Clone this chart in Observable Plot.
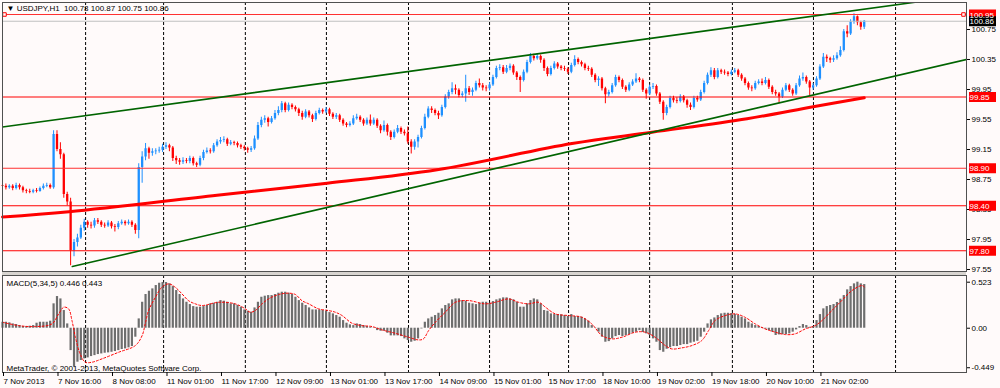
<!DOCTYPE html>
<html><head><meta charset="utf-8">
<script src="https://cdn.jsdelivr.net/npm/d3@7"></script>
<script src="https://cdn.jsdelivr.net/npm/@observablehq/plot@0.6"></script>
<style>
body{margin:0;background:#fffafa;}
#wrap{position:relative;width:1000px;height:388px;overflow:hidden;background:#fffafa;}
#wrap svg{position:absolute;left:0;}
#sep{position:absolute;left:2px;width:964px;top:271px;height:4px;background:#d8d4d0;}
</style></head><body><div id="wrap"><div id="sep"></div></div>
<script>
// ---- Data: USDJPY H1 candles (bar index 0 = 7 Nov 2013 00:00) ----
const open = [98.67,98.66,98.64,98.66,98.63,98.67,98.64,98.60,98.59,98.58,98.60,98.59,98.63,98.66,98.67,98.64,
99.35,99.15,99.08,98.55,98.45,97.80,97.91,97.97,98.10,98.18,98.14,98.13,98.20,98.18,98.14,98.13,
98.17,98.12,98.11,98.16,98.18,98.16,98.18,98.14,98.07,98.91,99.05,99.16,99.10,99.12,99.13,99.14,
99.18,99.20,99.17,99.03,99.00,98.98,99.00,98.99,99.03,98.96,98.94,99.03,99.11,99.13,99.12,99.20,
99.25,99.27,99.28,99.22,99.24,99.23,99.20,99.18,99.16,99.14,99.16,99.29,99.47,99.54,99.56,99.51,
99.56,99.63,99.67,99.76,99.67,99.74,99.71,99.68,99.63,99.58,99.65,99.60,99.55,99.63,99.67,99.65,
99.68,99.62,99.58,99.60,99.54,99.49,99.47,99.49,99.56,99.58,99.54,99.49,99.54,99.49,99.54,99.46,
99.40,99.47,99.38,99.31,99.38,99.43,99.38,99.36,99.25,99.18,99.25,99.31,99.43,99.58,99.69,99.67,
99.63,99.60,99.71,99.85,99.91,99.96,99.94,99.87,99.89,99.96,99.91,99.94,100.03,100.00,99.97,99.96,
100.01,100.11,100.23,100.24,100.18,100.23,100.26,100.17,100.11,100.07,100.18,100.31,100.39,100.36,100.39,100.34,
100.23,100.15,100.23,100.29,100.25,100.23,100.22,100.18,100.27,100.35,100.31,100.28,100.23,100.22,100.14,100.07,
100.09,99.96,99.88,99.91,100.00,100.11,100.07,99.98,99.94,100.01,100.05,100.09,100.07,99.94,99.89,99.98,
99.99,99.89,99.78,99.63,99.71,99.83,99.80,99.79,99.85,99.80,99.74,99.71,99.83,99.81,99.91,100.03,
100.14,100.20,100.11,100.20,100.18,100.17,100.15,100.18,100.20,100.14,100.09,100.03,99.97,99.96,100.03,100.05,
100.03,100.07,99.98,99.91,99.89,99.85,99.94,100.00,99.94,99.89,100.00,100.09,100.11,100.05,99.97,100.00,
100.09,100.25,100.38,100.36,100.34,100.36,100.40,100.47,100.72,100.69,100.85,100.92,100.84,100.78];
const high = [98.70,98.69,98.68,98.68,98.70,98.69,98.66,98.62,98.62,98.62,98.63,98.65,98.69,98.70,98.69,99.40,
99.40,99.24,99.10,98.58,98.50,97.95,98.02,98.14,98.22,98.20,98.18,98.23,98.23,98.20,98.17,98.20,
98.19,98.15,98.19,98.21,98.20,98.21,98.20,98.16,98.96,99.12,99.23,99.18,99.16,99.16,99.18,99.22,
99.24,99.22,99.19,99.06,99.03,99.04,99.03,99.06,99.05,98.98,99.06,99.14,99.17,99.16,99.23,99.28,
99.31,99.32,99.30,99.27,99.26,99.25,99.22,99.20,99.18,99.19,99.33,99.51,99.58,99.60,99.58,99.59,
99.67,99.72,99.79,99.78,99.77,99.76,99.73,99.70,99.66,99.68,99.67,99.62,99.66,99.70,99.69,99.71,
99.70,99.64,99.63,99.62,99.56,99.51,99.52,99.60,99.62,99.60,99.56,99.57,99.61,99.57,99.56,99.48,
99.53,99.49,99.40,99.41,99.47,99.45,99.41,99.45,99.28,99.28,99.34,99.46,99.62,99.72,99.72,99.69,
99.66,99.74,99.88,99.94,100.04,100.01,99.96,99.92,100.14,99.99,99.97,100.06,100.09,100.03,100.00,100.04,
100.14,100.26,100.28,100.27,100.27,100.29,100.28,100.19,100.13,100.21,100.34,100.43,100.42,100.43,100.41,100.36,
100.25,100.26,100.32,100.31,100.27,100.26,100.24,100.30,100.40,100.37,100.33,100.30,100.26,100.24,100.16,100.12,
100.11,99.98,99.94,100.03,100.14,100.13,100.09,100.00,100.04,100.08,100.16,100.11,100.09,99.96,100.01,100.03,
100.01,99.91,99.80,99.74,99.86,99.86,99.84,99.88,99.87,99.82,99.77,99.86,99.86,99.94,100.06,100.17,
100.24,100.23,100.23,100.22,100.21,100.19,100.21,100.23,100.22,100.16,100.11,100.05,100.00,100.06,100.08,100.09,
100.11,100.09,100.00,99.94,99.91,99.97,100.03,100.02,99.96,100.03,100.13,100.17,100.13,100.07,100.03,100.12,
100.28,100.43,100.41,100.38,100.40,100.44,100.52,100.75,100.80,100.88,100.96,100.93,100.86,100.87];
const low = [98.62,98.61,98.62,98.60,98.61,98.61,98.57,98.56,98.56,98.56,98.57,98.58,98.61,98.64,98.62,98.62,
99.12,99.02,98.50,98.40,97.60,97.72,97.85,97.95,98.06,98.10,98.09,98.10,98.15,98.11,98.10,98.11,
98.09,98.05,98.08,98.14,98.13,98.14,98.11,98.02,97.96,98.70,99.00,99.02,99.06,99.08,99.10,99.11,
99.15,99.12,98.99,98.95,98.94,98.95,98.96,98.96,98.93,98.91,98.92,99.00,99.09,99.09,99.10,99.18,
99.22,99.24,99.19,99.20,99.20,99.17,99.15,99.13,99.10,99.11,99.14,99.27,99.44,99.50,99.45,99.49,
99.54,99.60,99.64,99.64,99.65,99.68,99.65,99.59,99.54,99.56,99.57,99.51,99.53,99.61,99.62,99.63,
99.59,99.55,99.55,99.51,99.46,99.44,99.45,99.47,99.54,99.51,99.46,99.47,99.46,99.47,99.43,99.36,
99.38,99.33,99.27,99.29,99.36,99.35,99.33,99.22,99.09,99.14,99.17,99.29,99.41,99.56,99.63,99.60,
99.55,99.58,99.69,99.82,99.88,99.88,99.84,99.84,99.78,99.87,99.86,99.92,99.97,99.93,99.92,99.93,
99.99,100.09,100.20,100.15,100.16,100.20,100.14,100.07,99.91,100.05,100.16,100.29,100.33,100.34,100.30,100.19,
100.12,100.13,100.21,100.22,100.20,100.19,100.15,100.16,100.25,100.28,100.25,100.20,100.19,100.11,100.04,99.99,
99.93,99.76,99.85,99.89,99.98,100.04,99.95,99.91,99.92,99.99,100.03,100.04,99.91,99.82,99.87,99.95,
99.86,99.75,99.54,99.60,99.69,99.77,99.76,99.77,99.77,99.70,99.67,99.69,99.78,99.79,99.89,100.01,
100.11,100.08,100.09,100.15,100.14,100.12,100.13,100.16,100.11,100.06,100.00,99.94,99.92,99.94,100.01,100.00,
100.01,99.95,99.88,99.86,99.76,99.83,99.92,99.91,99.86,99.87,99.98,100.06,100.02,99.87,99.94,99.98,
100.07,100.23,100.31,100.30,100.31,100.34,100.38,100.45,100.64,100.67,100.82,100.80,100.74,100.75];
const close = [98.66,98.64,98.66,98.63,98.67,98.64,98.60,98.59,98.58,98.60,98.59,98.63,98.66,98.67,98.64,99.35,
99.15,99.08,98.55,98.45,97.80,97.91,97.97,98.10,98.18,98.14,98.13,98.20,98.18,98.14,98.13,98.17,
98.12,98.11,98.16,98.18,98.16,98.18,98.14,98.07,98.91,99.05,99.16,99.10,99.12,99.13,99.14,99.18,
99.20,99.17,99.03,99.00,98.98,99.00,98.99,99.03,98.96,98.94,99.03,99.11,99.13,99.12,99.20,99.25,
99.27,99.28,99.22,99.24,99.23,99.20,99.18,99.16,99.14,99.16,99.29,99.47,99.54,99.56,99.51,99.56,
99.63,99.67,99.76,99.67,99.74,99.71,99.68,99.63,99.58,99.65,99.60,99.55,99.63,99.67,99.65,99.68,
99.62,99.58,99.60,99.54,99.49,99.47,99.49,99.56,99.58,99.54,99.49,99.54,99.49,99.54,99.46,99.40,
99.47,99.38,99.31,99.38,99.43,99.38,99.36,99.25,99.18,99.25,99.31,99.43,99.58,99.69,99.67,99.63,
99.60,99.71,99.85,99.91,99.96,99.94,99.87,99.89,99.96,99.91,99.94,100.03,100.00,99.97,99.96,100.01,
100.11,100.23,100.24,100.18,100.23,100.26,100.17,100.11,100.07,100.18,100.31,100.39,100.36,100.39,100.34,100.23,
100.15,100.23,100.29,100.25,100.23,100.22,100.18,100.27,100.35,100.31,100.28,100.23,100.22,100.14,100.07,100.09,
99.96,99.88,99.91,100.00,100.11,100.07,99.98,99.94,100.01,100.05,100.09,100.07,99.94,99.89,99.98,99.99,
99.89,99.78,99.63,99.71,99.83,99.80,99.79,99.85,99.80,99.74,99.71,99.83,99.81,99.91,100.03,100.14,
100.20,100.11,100.20,100.18,100.17,100.15,100.18,100.20,100.14,100.09,100.03,99.97,99.96,100.03,100.05,100.03,
100.07,99.98,99.91,99.89,99.85,99.94,100.00,99.94,99.89,100.00,100.09,100.11,100.05,99.97,100.00,100.09,
100.25,100.38,100.36,100.34,100.36,100.40,100.47,100.72,100.69,100.85,100.92,100.84,100.78,100.86];

// MACD(5,34,5) main histogram per bar
const macd = [0.068,0.068,0.061,0.049,0.042,0.030,0.019,0.019,0.023,0.030,0.057,0.068,0.068,0.068,0.080,0.277,
0.360,0.333,0.201,0.049,-0.254,-0.443,-0.386,-0.367,-0.348,-0.337,-0.322,-0.311,-0.299,-0.292,-0.284,-0.280,
-0.273,-0.265,-0.254,-0.242,-0.235,-0.223,-0.208,-0.102,0.106,0.295,0.383,0.420,0.447,0.485,0.511,0.519,
0.519,0.504,0.473,0.428,0.383,0.333,0.295,0.269,0.246,0.239,0.239,0.246,0.258,0.277,0.284,0.295,
0.314,0.307,0.295,0.277,0.277,0.258,0.239,0.208,0.193,0.182,0.231,0.295,0.352,0.364,0.371,0.371,
0.383,0.398,0.409,0.409,0.398,0.383,0.352,0.314,0.284,0.258,0.231,0.208,0.208,0.208,0.201,0.193,
0.178,0.163,0.144,0.125,0.087,0.057,0.038,0.030,0.049,0.042,0.030,0.019,0.011,0.004,-0.027,-0.034,
-0.034,-0.057,-0.087,-0.087,-0.087,-0.095,-0.121,-0.140,-0.159,-0.148,-0.121,-0.008,0.068,0.106,0.125,0.144,
0.170,0.220,0.258,0.277,0.322,0.333,0.333,0.314,0.307,0.284,0.277,0.269,0.284,0.295,0.295,0.284,
0.303,0.322,0.333,0.345,0.345,0.333,0.322,0.295,0.239,0.239,0.277,0.314,0.333,0.322,0.277,0.201,
0.193,0.163,0.155,0.155,0.152,0.144,0.133,0.155,0.133,0.133,0.125,0.106,0.080,0.030,0.004,-0.045,
-0.102,-0.159,-0.152,-0.121,-0.095,-0.083,-0.095,-0.083,-0.072,-0.057,-0.045,-0.027,-0.049,-0.064,-0.083,-0.121,
-0.159,-0.254,-0.273,-0.239,-0.223,-0.208,-0.208,-0.197,-0.186,-0.186,-0.170,-0.159,-0.148,-0.102,-0.045,0.049,
0.095,0.117,0.144,0.163,0.170,0.170,0.167,0.159,0.144,0.125,0.106,0.068,0.049,0.030,0.019,0.008,
-0.011,-0.027,-0.045,-0.083,-0.076,-0.072,-0.072,-0.064,-0.045,-0.019,0.019,0.042,0.030,0.011,0.019,0.087,
0.155,0.220,0.246,0.258,0.269,0.292,0.330,0.371,0.436,0.473,0.504,0.523,0.504,0.496];

// MACD signal line, read at points (bar position, value)
const sigBar = [0,4.7,9.6,14.5,16.5,18,19.4,20.4,21.4,22.8,24.3,26.3,29.2,34.1,39,41,41.9,42.9,44.9,46.8,48.8,50.7,52.7,54.6,56.6,58.6,63.5,68.3,71.3,72.7,74.2,76.2,78.1,81.1,84,86,87.9,89.9,92.8,95.7,97.7,99.7,102.6,105.5,108.5,111.4,115.3,119.2,122.2,123.6,125.1,127.1,130,133,136.8,141.7,144.7,148.6,151.5,154.5,157.4,159.4,162.3,166.2,170.1,173,176,178.9,181.9,185.8,188.7,191.6,194.6,196.5,199.5,202.4,205.3,207.3,209.2,212.2,215.1,218,221,223.9,226.9,229.8,232.7,235.7,238.6,240.6,243.5,246.4,249.4,252.3,253];
const sigVal = [0.068,0.030,0.019,0.049,0.163,0.239,0.220,0.087,-0.102,-0.292,-0.386,-0.386,-0.348,-0.273,-0.197,-0.083,0.049,0.201,0.352,0.466,0.504,0.466,0.390,0.314,0.277,0.258,0.295,0.277,0.220,0.182,0.201,0.277,0.333,0.383,0.398,0.383,0.314,0.277,0.220,0.201,0.182,0.144,0.057,0.030,0.019,-0.019,-0.057,-0.102,-0.133,-0.121,-0.027,0.068,0.182,0.295,0.314,0.277,0.295,0.333,0.295,0.277,0.295,0.239,0.163,0.144,0.125,0.049,-0.083,-0.121,-0.102,-0.045,-0.045,-0.102,-0.197,-0.235,-0.223,-0.197,-0.140,-0.027,0.087,0.144,0.163,0.125,0.049,-0.008,-0.045,-0.072,-0.064,-0.008,0.030,0.087,0.201,0.314,0.428,0.485,0.47];

// Moving average (thick red) read at points
const maBar = [0,19.5,63,95.3,127.6,167.2,190.7,218.6,238,253];
const maVal = [98.25,98.32,98.54,98.70,98.88,99.23,99.38,99.56,99.72,99.84];

// Trend lines (anchor points: bar, price)
const upperTrend = [[0,99.45],[269,101.12]];
const lowerTrend = [[20.5,97.59],[283,100.35]];

// Horizontal levels and current price
const levelPrices = [100.95, 99.85, 98.90, 98.40, 97.80];
const levelLabels = ["100.95","99.85","98.90","98.40","97.80"];
const levelColors = ["#ff3030","#ff0000","#ff3030","#ff0000","#ff0000"];
const bidPrice = 100.86, bidLabel = "100.86";

// Axis ticks
const priceTicks = [100.75,100.35,99.95,99.55,99.15,98.75,98.35,97.95,97.55];
const macdTicks = [0.523, 0, -0.449];
const macdTickLabels = ["0.523","0.00","-0.449"];
const timeBars = [0,16,32,48,64,80,96,112,128,144,160,176,192,208,224,240];
const timeLabels = ["7 Nov 2013","7 Nov 16:00","8 Nov 08:00","11 Nov 01:00","11 Nov 17:00","12 Nov 09:00","13 Nov 01:00","13 Nov 17:00","14 Nov 09:00","15 Nov 01:00","15 Nov 17:00","18 Nov 10:00","19 Nov 02:00","19 Nov 18:00","20 Nov 10:00","21 Nov 02:00"];
const gridBars = [24.4,47.3,71.3,95.1,119.2,143.0,166.2,190.0,214.3,238.1,262.2];

const headerText = "\u25BC USDJPY,H1\u00A0\u00A0100.78 100.87 100.75 100.86";
const macdText = "MACD(5,34,5) 0.446 0.443";
const copyText = "MetaTrader, \u00A9 2001-2013, MetaQuotes Software Corp.";

// ---- Build ----
const UP = "#1e90ff", DOWN = "#ff0000";
const FONT = "'Liberation Sans',Arial,sans-serif";
const xDomain = [0, 283.03];
const candles = close.map((c, i) => ({i, o: open[i], h: high[i], l: low[i], c}));
const ups = candles.filter(d => d.c >= d.o), downs = candles.filter(d => d.c < d.o);
const ma = maBar.map((b, k) => ({b, v: maVal[k]}));
const sig = sigBar.map((b, k) => ({b, v: sigVal[k]}));
const macdData = macd.map((v, i) => ({i, v}));
const levels = levelPrices.map((p, k) => ({p, t: levelLabels[k], c: levelColors[k], tag: "#ff0000"}));
const tags = [...levels, {p: bidPrice, t: bidLabel, tag: "#000000"}];
const timeMap = new Map(timeBars.map((b, k) => [b, timeLabels[k]]));
const macdMap = new Map(macdTicks.map((v, k) => [v, macdTickLabels[k]]));

const styleBase = {background: "transparent", fontFamily: FONT, fontSize: "8px", color: "black", overflow: "visible"};

const main = Plot.plot({
  width: 1000, height: 272,
  marginLeft: 2, marginRight: 34, marginTop: 2, marginBottom: 1,
  style: styleBase,
  x: {domain: xDomain, axis: null},
  y: {domain: [97.5233, 101.11], axis: null},
  marks: [
    Plot.ruleX(gridBars, {stroke: "#000", strokeDasharray: "3,2", strokeWidth: 1}),
    Plot.ruleX(ups, {x: "i", y1: "l", y2: "h", stroke: UP, strokeWidth: 1}),
    Plot.ruleX(downs, {x: "i", y1: "l", y2: "h", stroke: DOWN, strokeWidth: 1}),
    Plot.ruleX(ups, {x: "i", y1: "o", y2: "c", stroke: UP, strokeWidth: 2.3}),
    Plot.ruleX(downs, {x: "i", y1: "o", y2: "c", stroke: DOWN, strokeWidth: 2.3}),
    Plot.ruleY([bidPrice], {stroke: "#c0c0c0", strokeWidth: 1}),
    Plot.ruleY(levels, {y: "p", stroke: d => d.c, strokeWidth: 1.2}),
    Plot.line(ma, {x: "b", y: "v", stroke: "#ff0000", strokeWidth: 3, curve: "catmull-rom"}),
    Plot.line(upperTrend, {x: d => d[0], y: d => d[1], stroke: "#006400", strokeWidth: 1.6, clip: "frame"}),
    Plot.line(lowerTrend, {x: d => d[0], y: d => d[1], stroke: "#006400", strokeWidth: 1.6, clip: "frame"}),
    Plot.dot([levelPrices[0]], {y: d => d, frameAnchor: "left", dx: 2, symbol: "square", r: 2, stroke: "#ff0000", fill: "#fffafa", strokeWidth: 1}),
    Plot.dot([levelPrices[0]], {y: d => d, frameAnchor: "right", dx: -3, symbol: "square", r: 2, stroke: "#ff0000", fill: "#fffafa", strokeWidth: 1}),
    Plot.frame({stroke: "#505050"}),
    Plot.axisY({anchor: "right", ticks: priceTicks, tickFormat: d => d.toFixed(2), tickSize: 3, tickPadding: 2, label: null, textAnchor: "start"}),
    Plot.ruleY(tags, {y: "p", stroke: d => d.tag, strokeWidth: 10, insetLeft: 937, dx: 30}),
    Plot.text(tags, {y: "p", text: "t", fill: "#ffffff", frameAnchor: "right", textAnchor: "start", dx: 3, dy: 0.5}),
    Plot.text([headerText], {frameAnchor: "top-left", lineAnchor: "top", textAnchor: "start", dx: 4, dy: 3, text: d => d, fill: "#000", fontSize: 8})
  ]
});
main.style.top = "0px";

const sub = Plot.plot({
  width: 1000, height: 116,
  marginLeft: 2, marginRight: 34, marginTop: 3, marginBottom: 16,
  style: styleBase,
  x: {domain: xDomain, axis: null},
  y: {domain: [-0.503, 0.599], axis: null},
  marks: [
    Plot.ruleX(gridBars, {stroke: "#000", strokeDasharray: "3,2", strokeWidth: 1}),
    Plot.ruleX(macdData, {x: "i", y1: 0, y2: "v", stroke: "#6e6e6e", strokeWidth: 2.2}),
    Plot.line(sig, {x: "b", y: "v", stroke: "#ff0000", strokeWidth: 1, strokeDasharray: "2,2", curve: "catmull-rom"}),
    Plot.frame({stroke: "#505050"}),
    Plot.axisY({anchor: "right", ticks: macdTicks, tickFormat: d => macdMap.get(d), tickSize: 3, tickPadding: 2, label: null, textAnchor: "start"}),
    Plot.axisX({anchor: "bottom", ticks: timeBars, tickFormat: d => timeMap.get(d), tickSize: 4, tickPadding: 2, label: null, textAnchor: "start", dx: 1}),
    Plot.text([macdText], {frameAnchor: "top-left", lineAnchor: "top", textAnchor: "start", dx: 4, dy: 5, text: d => d, fill: "#000"}),
    Plot.text([copyText], {frameAnchor: "bottom-left", lineAnchor: "bottom", textAnchor: "start", dx: 4, dy: -2, text: d => d, fill: "#000"})
  ]
});
sub.style.top = "272px";

const wrap = document.getElementById("wrap");
wrap.appendChild(main);
wrap.appendChild(sub);
</script></body></html>
